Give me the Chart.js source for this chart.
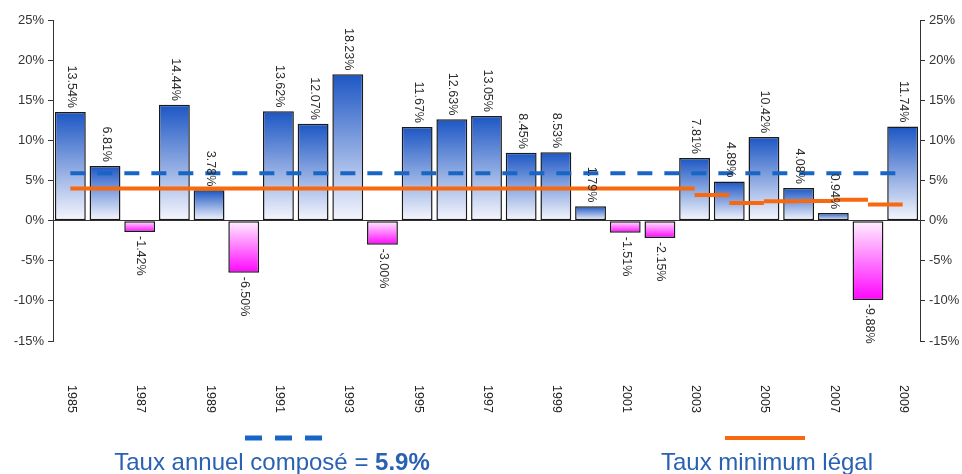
<!DOCTYPE html>
<html>
<head>
<meta charset="utf-8">
<script src="https://cdn.jsdelivr.net/npm/chart.js@4/dist/chart.umd.min.js"></script>
<style>
  html, body { margin: 0; padding: 0; background: #fff; }
  #wrap { width: 962px; height: 474px; position: relative; }
</style>
</head>
<body>
<div id="wrap"><canvas id="rendChart" width="962" height="474"></canvas></div>
<script>
// annual returns, 1985 - 2009
var years = ['1985', '1986', '1987', '1988', '1989', '1990', '1991', '1992', '1993', '1994',
             '1995', '1996', '1997', '1998', '1999', '2000', '2001', '2002', '2003', '2004',
             '2005', '2006', '2007', '2008', '2009'];
var returns = [13.54, 6.81, -1.42, 14.44, 3.78, -6.50, 13.62, 12.07, 18.23, -3.00,
               11.67, 12.63, 13.05, 8.45, 8.53, 1.79, -1.51, -2.15, 7.81, 4.89,
               10.42, 4.08, 0.94, -9.88, 11.74];
var compoundRate = 5.9;
// legal minimum rate (value reached at each year's point)
var legalMin = [4, 4, 4, 4, 4, 4, 4, 4, 4, 4,
                4, 4, 4, 4, 4, 4, 4, 4, 4, 3.2,
                2.2, 2.4, 2.45, 2.6, 2.0];
var yTicks = [-15, -10, -5, 0, 5, 10, 15, 20, 25];

var legendLabels = ['Taux annuel composé = ', '5.9%', 'Taux minimum légal'];

var FONT = "'Liberation Sans', Arial, sans-serif";
var BLUE_LINE = '#1766c6';
var ORANGE = '#f7680f';
var LEGEND_TEXT = '#2a62b3';

function barFill(ctx) {
    var chart = ctx.chart;
    if (!chart.chartArea || ctx.type !== 'data') return '#4a74cc';
    var v = ctx.raw;
    var ys = chart.scales.y;
    var y0 = ys.getPixelForValue(0);
    var y1 = ys.getPixelForValue(v);
    if (Math.abs(y1 - y0) < 1) y1 = y0 + (v >= 0 ? -1 : 1);
    var g = chart.ctx.createLinearGradient(0, y1, 0, y0);
    if (v >= 0) {
        g.addColorStop(0, '#1c56c4');
        g.addColorStop(1, '#f7f7fd');
    } else {
        g.addColorStop(0, '#ff05ff');
        g.addColorStop(1, '#fff2ff');
    }
    return g;
}

// split the legal minimum into flat pieces, one per change of value
function legalDatasets() {
    var sets = [];
    var cur = null;
    for (var i = 1; i < years.length; i++) {
        var v = legalMin[i];
        if (cur && cur.value === v && cur.end === i - 1) {
            cur.end = i;
        } else {
            cur = { value: v, start: i - 1, end: i };
            sets.push(cur);
        }
    }
    return sets.map(function (s) {
        var data = years.map(function (y, k) {
            return (k >= s.start && k <= s.end) ? s.value : null;
        });
        return {
            type: 'line',
            data: data,
            borderColor: ORANGE,
            borderWidth: 4,
            pointRadius: 0,
            fill: false,
            spanGaps: false,
            order: 0,
            yAxisID: 'y'
        };
    });
}

var valueLabels = {
    id: 'valueLabels',
    afterDatasetsDraw: function (chart) {
        var c = chart.ctx;
        var meta = chart.getDatasetMeta(0);
        c.save();
        c.font = '12.5px ' + FONT;
        c.fillStyle = '#2b2b2b';
        c.textBaseline = 'middle';
        meta.data.forEach(function (bar, i) {
            var v = returns[i];
            var txt = v.toFixed(2) + '%';
            c.save();
            if (v >= 0) {
                c.translate(bar.x + 1, bar.y - 4);
                c.rotate(Math.PI / 2);
                c.textAlign = 'right';
            } else {
                c.translate(bar.x + 1, bar.y + 4);
                c.rotate(Math.PI / 2);
                c.textAlign = 'left';
            }
            c.fillText(txt, 0, 0);
            c.restore();
        });
        c.restore();
    }
};

var yearLabels = {
    id: 'yearLabels',
    afterDraw: function (chart) {
        var c = chart.ctx;
        var xs = chart.scales.x;
        c.save();
        c.font = '12.5px ' + FONT;
        c.fillStyle = '#222';
        c.textAlign = 'center';
        c.textBaseline = 'middle';
        years.forEach(function (y, i) {
            if (i % 2 !== 0) return;
            c.save();
            c.translate(xs.getPixelForValue(i) + 1, 399);
            c.rotate(Math.PI / 2);
            c.fillText(y, 0, 0);
            c.restore();
        });
        c.restore();
    }
};

var bottomLegend = {
    id: 'bottomLegend',
    afterDraw: function (chart) {
        var c = chart.ctx;
        c.save();
        // dashed sample
        c.strokeStyle = BLUE_LINE;
        c.lineWidth = 5;
        for (var k = 0; k < 3; k++) {
            c.beginPath();
            c.moveTo(245 + k * 30, 438);
            c.lineTo(262 + k * 30, 438);
            c.stroke();
        }
        // solid sample
        c.strokeStyle = ORANGE;
        c.lineWidth = 4;
        c.beginPath();
        c.moveTo(725, 438);
        c.lineTo(805, 438);
        c.stroke();

        c.fillStyle = LEGEND_TEXT;
        c.textBaseline = 'alphabetic';
        c.textAlign = 'left';
        c.font = '24px ' + FONT;
        var w1 = c.measureText(legendLabels[0]).width;
        c.font = 'bold 24px ' + FONT;
        var w2 = c.measureText(legendLabels[1]).width;
        var x0 = 272 - (w1 + w2) / 2;
        c.font = '24px ' + FONT;
        c.fillText(legendLabels[0], x0, 470);
        c.font = 'bold 24px ' + FONT;
        c.fillText(legendLabels[1], x0 + w1, 470);

        c.font = '24px ' + FONT;
        c.textAlign = 'center';
        c.fillText(legendLabels[2], 767, 470);
        c.restore();
    }
};

function pctTick(v) {
    return yTicks.indexOf(v) >= 0 ? v + '%' : '';
}

var datasets = [
    {
        type: 'bar',
        data: returns,
        backgroundColor: barFill,
        borderColor: '#1a1a1a',
        borderWidth: 1.5,
        borderSkipped: false,
        barPercentage: 0.89,
        categoryPercentage: 1.0,
        order: 2,
        yAxisID: 'y'
    },
    {
        type: 'line',
        data: years.map(function () { return compoundRate; }),
        borderColor: BLUE_LINE,
        borderWidth: 4,
        borderDash: [15, 12],
        pointRadius: 0,
        fill: false,
        order: 0,
        yAxisID: 'y'
    }
].concat(legalDatasets());

var axisCommon = {
    min: yTicks[0],
    max: yTicks[yTicks.length - 1],
    ticks: {
        stepSize: 5,
        callback: pctTick,
        color: '#333',
        font: { family: FONT, size: 13 },
        padding: 4
    },
    border: { display: true, color: '#333', width: 1 }
};

var theChart = new Chart(document.getElementById('rendChart').getContext('2d'), {
    data: { labels: years, datasets: datasets },
    options: {
        responsive: false,
        animation: false,
        layout: { padding: { top: 20, bottom: 133, left: 0, right: 0 } },
        plugins: {
            legend: { display: false },
            tooltip: { enabled: false }
        },
        scales: {
            x: {
                type: 'category',
                display: false,
                offset: true
            },
            y: Object.assign({}, axisCommon, {
                position: 'left',
                grid: {
                    drawOnChartArea: true,
                    color: function (ctx) { return ctx.tick && ctx.tick.value === 0 ? '#333' : 'rgba(0,0,0,0)'; },
                    tickColor: '#333',
                    tickLength: 5
                },
                afterFit: function (s) { s.width = 53; }
            }),
            y2: Object.assign({}, axisCommon, {
                position: 'right',
                grid: {
                    drawOnChartArea: false,
                    tickColor: '#333',
                    tickLength: 5
                },
                afterFit: function (s) { s.width = 42; }
            })
        }
    },
    plugins: [valueLabels, yearLabels, bottomLegend]
});
</script>
</body>
</html>
